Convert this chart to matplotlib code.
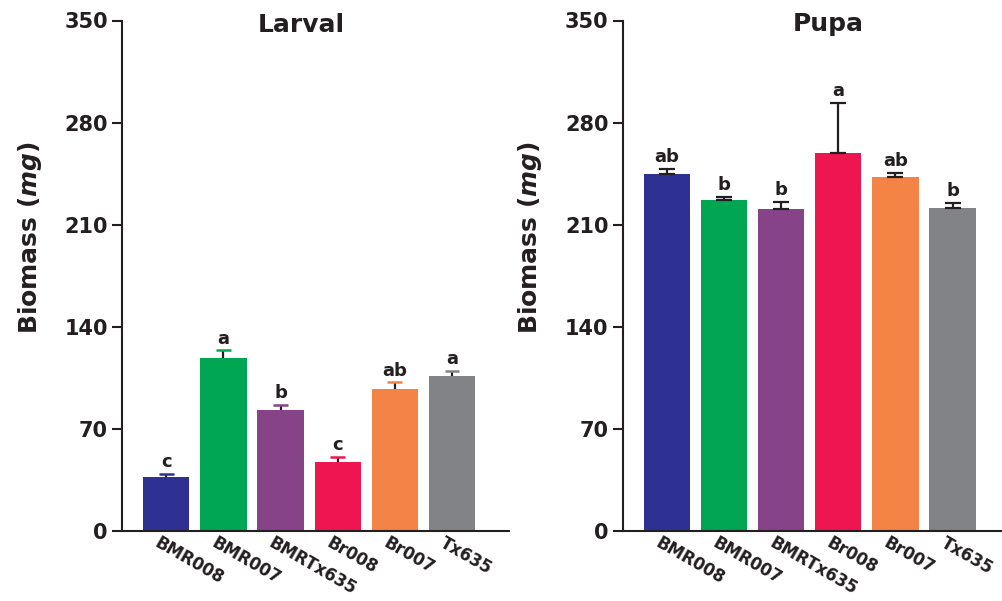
import numpy as np
import matplotlib
matplotlib.use("Agg")
from matplotlib import pyplot as plt
from matplotlib.transforms import ScaledTranslation

# genotypes and measured biomass (mean, upper error) for each stage
lines = ["BMR008", "BMR007", "BMRTx635", "Br008", "Br007", "Tx635"]
colors = ["#2E3192", "#00A651", "#864387", "#ED1650", "#F48346", "#828386"]

larval_mean = [37.0, 118.8, 82.8, 47.5, 97.2, 106.2]
larval_err = [2.3, 5.0, 3.9, 3.4, 4.7, 3.7]
larval_groups = ["c", "a", "b", "c", "ab", "a"]

pupa_mean = [244.5, 227.1, 221.1, 259.5, 242.7, 221.6]
pupa_err = [3.7, 1.9, 4.4, 34.2, 3.0, 3.2]
pupa_groups = ["ab", "b", "b", "a", "ab", "b"]

y_ticks = [0, 70, 140, 210, 280, 350]

ink = "#231F20"
plt.rcParams["font.family"] = ["DejaVu Sans"]
plt.rcParams["font.weight"] = "bold"
plt.rcParams["mathtext.fontset"] = "custom"
plt.rcParams["mathtext.it"] = "DejaVu Sans:italic:bold"
plt.rcParams["mathtext.rm"] = "DejaVu Sans:bold"

fig = plt.figure(figsize=(10.03, 6.01), dpi=100)
W, H = 1003.0, 601.0
AX_H = 510.5


def panel(left_px, mean, err, groups, title, title_x, colored_caps):
    ax = fig.add_axes([left_px / W, 1 - 531 / H, 387 / W, AX_H / H])
    x = np.arange(len(lines))
    ax.bar(x, mean, width=0.81, color=colors, zorder=2)

    # upper half error bars only
    low = np.zeros(len(err))
    ax.errorbar(x, mean, yerr=[low, err], fmt="none", ecolor=ink,
                elinewidth=1.6, capsize=0 if colored_caps else 5.5,
                capthick=1.6, zorder=3)
    tops = np.array(mean) + np.array(err)
    if colored_caps:
        ax.scatter(x, tops, marker="_", s=110, c=colors, linewidths=1.8, zorder=4)

    for xi, top, g in zip(x, tops, groups):
        ax.annotate(g, (xi, top), xytext=(0, 2), textcoords="offset points",
                    ha="center", va="bottom", fontsize=13, fontweight="bold",
                    color=ink)

    ax.set_xlim(-0.776, 6.0)
    ax.set_ylim(0, 350)
    ax.set_yticks(y_ticks)
    ax.set_yticklabels([str(t) for t in y_ticks])
    ax.tick_params(axis="y", length=7.2, width=1.5, pad=3, labelsize=15,
                   colors=ink)
    ax.tick_params(axis="x", length=0, pad=2)
    ax.set_xticks(x)
    ax.set_xticklabels(lines, rotation=-30, ha="left", va="top",
                       rotation_mode="anchor", fontsize=12, fontweight="bold",
                       color=ink)
    shift = ScaledTranslation(-4 / 72, 0, fig.dpi_scale_trans)
    for lab in ax.get_xticklabels():
        lab.set_transform(lab.get_transform() + shift)

    for side in ["top", "right"]:
        ax.spines[side].set_visible(False)
    for side in ["left", "bottom"]:
        ax.spines[side].set_linewidth(1.5)
        ax.spines[side].set_color(ink)

    ax.text(title_x, 1 - 11 / AX_H, title, transform=ax.transAxes,
            ha="center", va="baseline", fontsize=18, fontweight="bold", color=ink)
    return ax


panel(122, larval_mean, larval_err, larval_groups, "Larval", 0.464, True)
panel(622.7, pupa_mean, pupa_err, pupa_groups, "Pupa", 0.53, False)

for xc in [30.5, 530.5]:
    fig.text(xc / W, 1 - 238 / H, r"Biomass ($mg$)", rotation=90,
             ha="center", va="center", fontsize=18, fontweight="bold", color=ink)

fig.savefig("out.png", dpi=100)
